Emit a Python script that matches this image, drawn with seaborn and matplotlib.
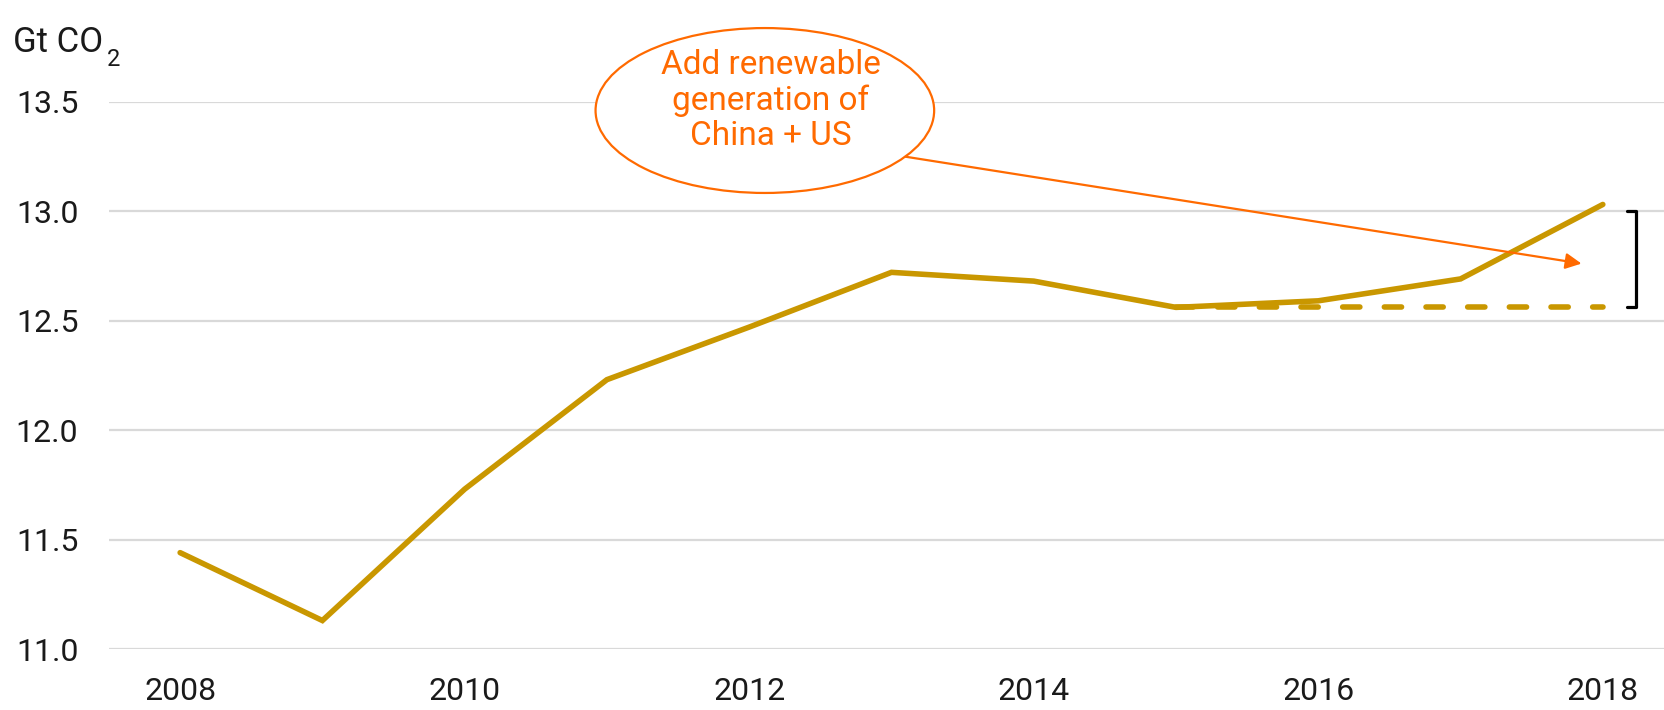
import matplotlib
matplotlib.use("Agg")
import matplotlib.pyplot as plt
import pandas as pd
import seaborn as sns
from matplotlib.patches import Ellipse

# data
years = [2008, 2009, 2010, 2011, 2012, 2013, 2014, 2015, 2016, 2017, 2018]
emissions = [11.44, 11.13, 11.73, 12.23, 12.47, 12.72, 12.68, 12.56, 12.59, 12.69, 13.03]
flat_years = [2015, 2016, 2017, 2018]
flat_level = [12.56, 12.56, 12.56, 12.56]
y_ticks = [11.0, 11.5, 12.0, 12.5, 13.0, 13.5]
x_ticks = [2008, 2010, 2012, 2014, 2016, 2018]
callout_text = "Add renewable\ngeneration of\nChina + US"

LINE = "#C99700"
ORANGE = "#FF6A00"
INK = "#1a1a1a"

sns.set_theme(style="white")
plt.rcParams["font.family"] = ["Roboto", "DejaVu Sans"]

df = pd.DataFrame({"year": years, "gt": emissions})
flat_df = pd.DataFrame({"year": flat_years, "gt": flat_level})

fig = plt.figure(figsize=(16.64, 7.10), dpi=100)
ax = fig.add_axes([0.0655, 0.0859, 0.9345, 0.7711])

for v in y_ticks:
    ax.axhline(v, color="#D9D9D9", lw=1.6, zorder=0)

sns.lineplot(data=df, x="year", y="gt", ax=ax, color=LINE, linewidth=4.0,
             solid_capstyle="round", solid_joinstyle="miter", zorder=3)
sns.lineplot(data=flat_df, x="year", y="gt", ax=ax, color=LINE, linewidth=4.0,
             zorder=2)
dash_line = ax.lines[-1]
dash_line.set_linestyle((0, (3.1, 4.4)))
dash_line.set_dash_capstyle("round")

ax.set_xlim(2007.5, 2018.43)
ax.set_ylim(11.0, 13.5)
ax.set_xticks(x_ticks)
ax.set_xticklabels([str(x) for x in x_ticks])
ax.set_yticks(y_ticks)
ax.set_yticklabels([f"{v:.1f}" for v in y_ticks])
ax.tick_params(axis="both", length=0, labelsize=23, colors=INK)
ax.tick_params(axis="x", pad=20)
ax.tick_params(axis="y", pad=22)
ax.set_xlabel("")
ax.set_ylabel("")
for s in ax.spines.values():
    s.set_visible(False)

# callout bubble and arrow
ell = Ellipse((2012.11, 13.459), 2.38, 0.753, facecolor="white",
              edgecolor=ORANGE, lw=1.6, clip_on=False, zorder=5)
ax.add_patch(ell)
ax.text(2012.15, 13.505, callout_text, ha="center", va="center",
        color=ORANGE, fontsize=24, linespacing=1.12, zorder=6, clip_on=False)
ax.annotate("", xy=(2017.85, 12.76), xytext=(2013.07, 13.251),
            arrowprops=dict(arrowstyle="-|>", color=ORANGE, lw=1.6,
                            mutation_scale=24, shrinkA=0, shrinkB=0),
            zorder=4)

# bracket on the right
bx = 2018.23
ax.plot([bx - 0.06, bx, bx, bx - 0.06], [13.0, 13.0, 12.564, 12.564],
        color="black", lw=2.3, clip_on=False, zorder=4)

# unit label with a large subscript
fig.text(13 / 1664, 1 - 52 / 710, "Gt CO", fontsize=25, color=INK,
         ha="left", va="baseline")
fig.text(107 / 1664, 1 - 66 / 710, "2", fontsize=17, color=INK,
         ha="left", va="baseline")

fig.savefig("out.png", dpi=100)
